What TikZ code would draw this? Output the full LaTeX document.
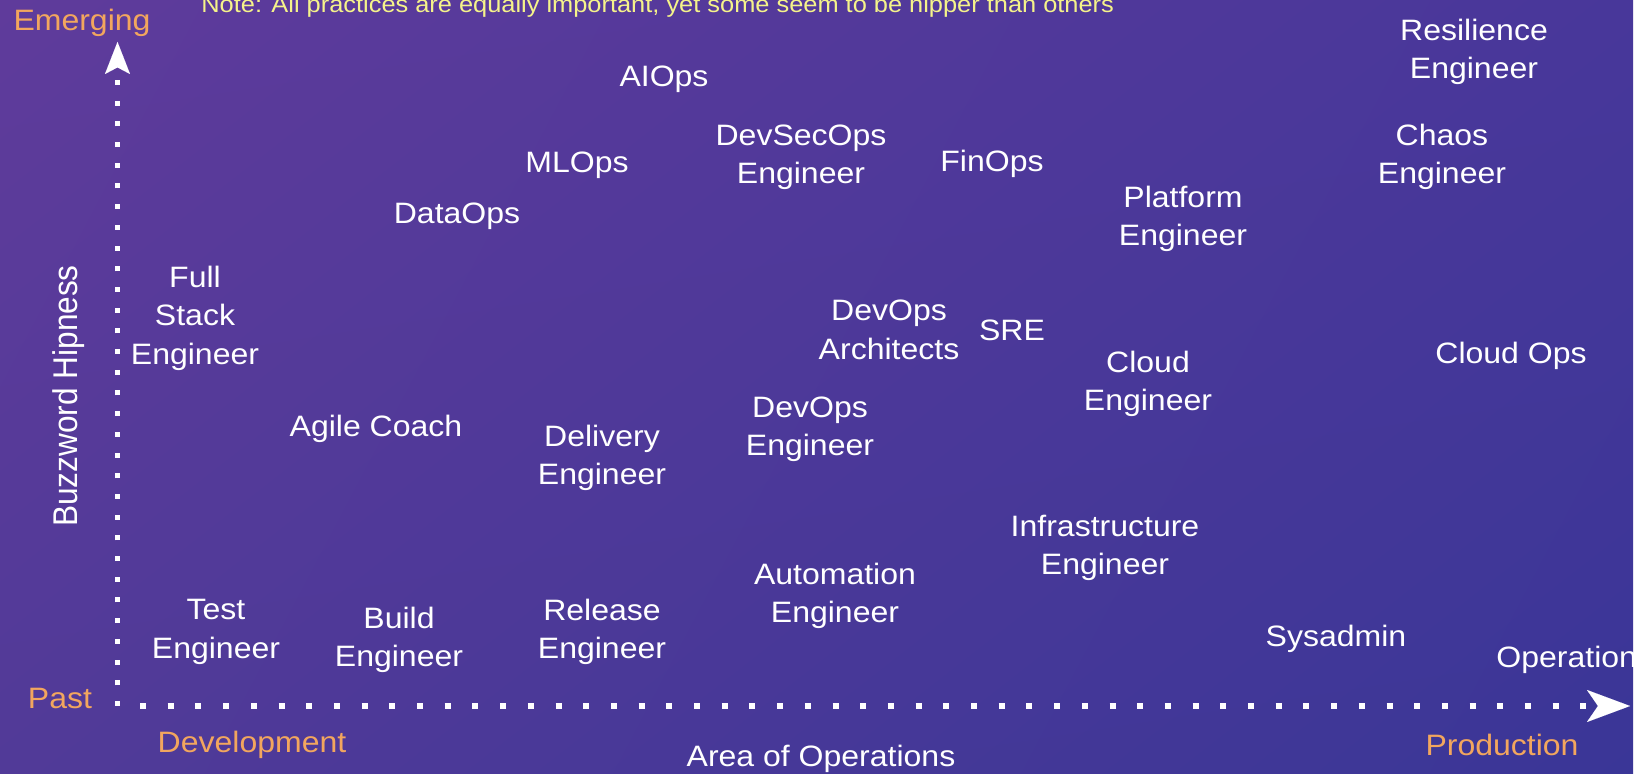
\documentclass[tikz,border=0pt]{standalone}
\usepackage{fontspec}
\setmainfont{Liberation Sans}
\newfontfamily\lblfont{Liberation Sans}[FakeStretch=1.085]
\usetikzlibrary{arrows.meta,shadings}
\definecolor{bgUL}{HTML}{5F3B9B}
\definecolor{bgUR}{HTML}{48379A}
\definecolor{bgLL}{HTML}{513A98}
\definecolor{bgLR}{HTML}{3A3697}
\definecolor{axisorange}{HTML}{F2A65E}
\definecolor{noteyellow}{HTML}{F5F38A}
\tikzset{
  lbl/.style={text=white, font=\lblfont\fontsize{14.75}{19.2}\selectfont, align=center, inner sep=0pt},
  axlbl/.style={text=axisorange, font=\lblfont\fontsize{14.75}{19.2}\selectfont, inner sep=0pt},
  notelbl/.style={text=noteyellow, font=\lblfont\fontsize{11.7}{14}\selectfont, inner sep=0pt, anchor=base west},
  vdots/.style={white, line width=2.5pt, dash pattern=on 2.5pt off 7.85pt,
    -{Stealth[length=16pt, width=12.5pt, inset=3.3pt, line width=0.01pt]}},
  hdots/.style={white, line width=3pt, dash pattern=on 3pt off 10.85pt,
    -{Stealth[length=21.5pt, width=16pt, inset=5.5pt, line width=0.01pt]}},
}
\begin{document}
\begin{tikzpicture}[x=0.5pt, y=-0.5pt]
\useasboundingbox (0,0) rectangle (1635,774);
\fill[white] (0,0) rectangle (1635,774);
\shade[upper left=bgUL, upper right=bgUR, lower left=bgLL, lower right=bgLR] (0,0) rectangle (1633,774);

% axes
\coordinate (vstart) at (117.5,706);
\coordinate (vend) at (117.5,42);
\coordinate (hstart) at (140,706);
\coordinate (hend) at (1630,706);
\draw[vdots] (vstart) -- (vend);
\draw[hdots] (hstart) -- (hend);

% axis labels
\node[notelbl] (note) at (201,12.7) {Note: All practices are equally important, yet some seem to be hipper than others};
\node[axlbl] (emerging) at (82,23) {Emerging};
\node[axlbl] (past) at (60,698) {Past};
\node[axlbl] (development) at (252,745) {Development};
\node[axlbl] (production) at (1502,745) {Production};
\node[lbl] (area) at (821,759) {Area of Operations};
\node[text=white, inner sep=0pt, font=\fontsize{15.8}{19}\selectfont, rotate=90] (hipness) at (69,396) {\scalebox{1}[1.085]{Buzzword Hipness}};

% roles
\node[lbl] (fullstack) at (195,318) {Full\\Stack\\Engineer};
\node[lbl] (agile) at (376,429) {Agile Coach};
\node[lbl] (dataops) at (457,216) {DataOps};
\node[lbl] (mlops) at (577,165) {MLOps};
\node[lbl] (aiops) at (664,79) {AIOps};
\node[lbl] (devsecops) at (801,157) {DevSecOps\\Engineer};
\node[lbl] (finops) at (992,164) {FinOps};
\node[lbl] (platform) at (1183,219) {Platform\\Engineer};
\node[lbl] (resilience) at (1474,52) {Resilience\\Engineer};
\node[lbl] (chaos) at (1442,157) {Chaos\\Engineer};
\node[lbl] (devopsarch) at (889,330) {DevOps\\Architects};
\node[lbl] (sre) at (1012,330) {SRE};
\node[lbl] (cloudeng) at (1148,384) {Cloud\\Engineer};
\node[lbl] (cloudops) at (1511,356) {Cloud Ops};
\node[lbl] (devopseng) at (810,429) {DevOps\\Engineer};
\node[lbl] (delivery) at (602,458) {Delivery\\Engineer};
\node[lbl] (infra) at (1105,548) {Infrastructure\\Engineer};
\node[lbl] (automation) at (835,596) {Automation\\Engineer};
\node[lbl] (test) at (216,632) {Test\\Engineer};
\node[lbl] (build) at (399,640) {Build\\Engineer};
\node[lbl] (release) at (602,632) {Release\\Engineer};
\node[lbl] (sysadmin) at (1336,639) {Sysadmin};
\node[lbl, anchor=west] (operation) at (1496,660) {Operation};
\end{tikzpicture}
\end{document}
